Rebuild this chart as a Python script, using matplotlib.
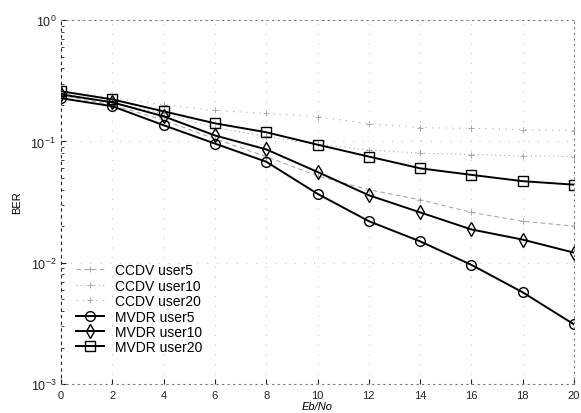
import matplotlib
matplotlib.use("Agg")
import matplotlib.pyplot as plt

plt.rcParams['font.family'] = ['Liberation Sans', 'DejaVu Sans']

# Eb/No axis
ebno = [0, 2, 4, 6, 8, 10, 12, 14, 16, 18, 20]

# CCDV curves (faint, dotted in the scan)
ccdv_user5 = [0.24, 0.20, 0.15, 0.105, 0.075, 0.052, 0.040, 0.033, 0.026, 0.022, 0.020]
ccdv_user10 = [0.25, 0.21, 0.17, 0.13, 0.11, 0.095, 0.085, 0.080, 0.078, 0.076, 0.075]
ccdv_user20 = [0.26, 0.23, 0.20, 0.18, 0.17, 0.16, 0.14, 0.13, 0.128, 0.125, 0.123]

# MVDR curves
mvdr_user5 = [0.227, 0.195, 0.136, 0.096, 0.068, 0.037, 0.022, 0.015, 0.0096, 0.0057, 0.0031]
mvdr_user10 = [0.244, 0.210, 0.161, 0.112, 0.086, 0.056, 0.036, 0.026, 0.0188, 0.0155, 0.0121]
mvdr_user20 = [0.259, 0.222, 0.177, 0.141, 0.119, 0.094, 0.075, 0.060, 0.053, 0.047, 0.044]

xticks = [0, 2, 4, 6, 8, 10, 12, 14, 16, 18, 20]

fig = plt.figure(figsize=(5.81, 4.14), dpi=100)
ax = fig.add_axes([0.105, 0.070, 0.883, 0.879])

faint = '#a8a8a8'
ax.semilogy(ebno, ccdv_user5, color=faint, ls=(0, (4, 3)), lw=0.8,
            marker='+', ms=5, mew=0.7, label='CCDV user5')
ax.semilogy(ebno, ccdv_user10, color=faint, ls=(0, (1, 3)), lw=0.8,
            marker='+', ms=5, mew=0.7, label='CCDV user10')
ax.semilogy(ebno, ccdv_user20, color=faint, ls=(0, (1, 5)), lw=0.8,
            marker='+', ms=5, mew=0.7, label='CCDV user20')

ax.semilogy(ebno, mvdr_user5, 'k-', lw=1.4, marker='o', ms=7,
            mfc='none', mew=1.0, label='MVDR user5')
ax.semilogy(ebno, mvdr_user10, 'k-', lw=1.4, marker='d', ms=7,
            mfc='none', mew=1.0, label='MVDR user10')
ax.semilogy(ebno, mvdr_user20, 'k-', lw=1.4, marker='s', ms=7,
            mfc='none', mew=1.0, label='MVDR user20')

ax.set_xlim(0, 20)
ax.set_ylim(1e-3, 1)
ax.set_xticks(xticks)
ax.tick_params(which='both', direction='in', labelsize=8, colors='#222222')
ax.tick_params(axis='y', which='major', labelsize=9)
ax.tick_params(axis='x', pad=4)

ax.grid(True, which='major', color='#bbbbbb', ls=(0, (1, 9)), lw=0.7)
for s in ax.spines.values():
    s.set_color('#777777')
    s.set_linestyle((0, (1, 4)))
    s.set_linewidth(0.8)
ax.spines['left'].set_color('#222222')
ax.spines['left'].set_linestyle((0, (2, 4)))

ax.set_xlabel('Eb/No', fontsize=8, style='italic', labelpad=1)
ax.set_ylabel('BER', fontsize=8, labelpad=6)

ax.legend(loc='lower left', bbox_to_anchor=(0.01, 0.055), frameon=False,
          fontsize=10, handlelength=2.0, labelspacing=0.1, borderaxespad=0.3)

fig.savefig('out.png', dpi=100)
